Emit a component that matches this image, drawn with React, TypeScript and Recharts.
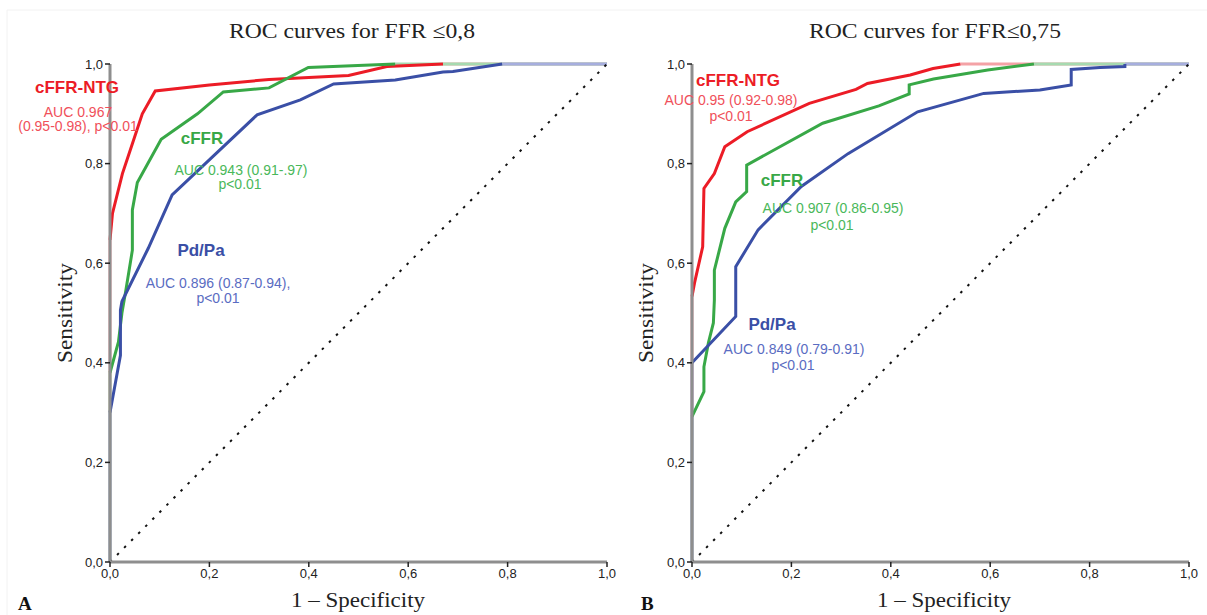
import { LineChart, Line, XAxis, YAxis } from 'recharts'

// ROC points as [1 - specificity, sensitivity]
const ntgA: number[][] = [[0, 0.647], [0.005, 0.7], [0.025, 0.78], [0.045, 0.84], [0.065, 0.9], [0.091, 0.946], [0.2, 0.958], [0.32, 0.969], [0.48, 0.977], [0.557, 0.995], [0.67, 1]]
const cffrA: number[][] = [[0, 0.38], [0.017, 0.442], [0.024, 0.5], [0.032, 0.546], [0.045, 0.626], [0.045, 0.707], [0.055, 0.762], [0.103, 0.849], [0.176, 0.9], [0.228, 0.944], [0.32, 0.952], [0.399, 0.993], [0.574, 1]]
const pdpaA: number[][] = [[0, 0.3], [0.021, 0.415], [0.021, 0.506], [0.024, 0.523], [0.077, 0.63], [0.125, 0.737], [0.296, 0.898], [0.383, 0.928], [0.45, 0.96], [0.574, 0.968], [0.67, 0.984], [0.69, 0.985], [0.789, 1]]

const ntgB: number[][] = [[0, 0.533], [0.005, 0.56], [0.0215, 0.633], [0.024, 0.75], [0.045, 0.78], [0.066, 0.834], [0.111, 0.864], [0.236, 0.921], [0.33, 0.949], [0.353, 0.961], [0.439, 0.978], [0.485, 0.991], [0.54, 1]]
const cffrB: number[][] = [[0, 0.292], [0.024, 0.342], [0.024, 0.392], [0.033, 0.44], [0.043, 0.48], [0.045, 0.526], [0.045, 0.586], [0.066, 0.67], [0.088, 0.723], [0.11, 0.744], [0.11, 0.797], [0.263, 0.881], [0.376, 0.916], [0.437, 0.94], [0.437, 0.958], [0.486, 0.97], [0.595, 0.988], [0.688, 1]]
const pdpaB: number[][] = [[0, 0.4], [0.088, 0.493], [0.088, 0.593], [0.133, 0.667], [0.22, 0.754], [0.314, 0.82], [0.454, 0.904], [0.587, 0.941], [0.7, 0.948], [0.763, 0.958], [0.763, 0.989], [0.821, 0.993], [0.871, 0.995], [0.871, 1]]

const diagonal: number[][] = [[0, 0], [1, 1]]
const ticks = [0, 0.2, 0.4, 0.6, 0.8, 1]

const RED = '#ec1c26'
const GREEN = '#38a847'
const BLUE = '#3a4fa6'
const PALE = { red: '#f4a2a6', green: '#a6dab0', blue: '#a6aede' }

const toPts = (arr: number[][]) => arr.map(([x, y]) => ({ x, y }))

interface Series { key: string; points: number[][]; color: string; pale: string }

function RocPanel({ series, width, left, right }: { series: Series[]; width: number; left: number; right: number }) {
  const fmt = (v: number) => v.toFixed(1).replace('.', ',')
  const tickStyle = { fontSize: 13, fill: '#222', fontFamily: 'Liberation Sans, Arial, sans-serif' }
  return (
    <LineChart width={width} height={615} margin={{ top: 64, right, bottom: 23, left }}>
      <XAxis
        type="number"
        dataKey="x"
        domain={[0, 1]}
        ticks={ticks}
        tickFormatter={fmt}
        height={30}
        axisLine={{ stroke: '#8e8e8e', strokeWidth: 3 }}
        tickLine={{ stroke: '#222', strokeWidth: 1.5 }}
        tickSize={5}
        tick={tickStyle}
      />
      <YAxis
        type="number"
        dataKey="y"
        domain={[0, 1]}
        ticks={ticks}
        tickFormatter={fmt}
        width={40}
        axisLine={{ stroke: '#8e8e8e', strokeWidth: 3 }}
        tickLine={{ stroke: '#222', strokeWidth: 1.5 }}
        tickSize={5}
        tick={tickStyle}
      />
      {/* pale stretches along x = 0 and y = 1 */}
      {series.map((s) => (
        <Line
          key={s.key + '-head'}
          data={toPts([[0, 0], [0, s.points[0][1]]])}
          dataKey="y"
          stroke={s.pale}
          strokeWidth={3}
          dot={false}
          isAnimationActive={false}
        />
      ))}
      {series.map((s) => (
        <Line
          key={s.key + '-tail'}
          data={toPts([[s.points[s.points.length - 1][0], 1], [1, 1]])}
          dataKey="y"
          stroke={s.pale}
          strokeWidth={3}
          dot={false}
          isAnimationActive={false}
        />
      ))}
      {series.map((s) => (
        <Line
          key={s.key}
          data={toPts(s.points)}
          dataKey="y"
          type="linear"
          stroke={s.color}
          strokeWidth={3}
          dot={false}
          isAnimationActive={false}
        />
      ))}
      <Line
        data={toPts(diagonal)}
        dataKey="y"
        stroke="#111"
        strokeWidth={2}
        strokeDasharray="2.5 7.5"
        dot={false}
        isAnimationActive={false}
      />
    </LineChart>
  )
}

const seriesA: Series[] = [
  { key: 'ntg', points: ntgA, color: RED, pale: PALE.red },
  { key: 'cffr', points: cffrA, color: GREEN, pale: PALE.green },
  { key: 'pdpa', points: pdpaA, color: BLUE, pale: PALE.blue },
]
const seriesB: Series[] = [
  { key: 'ntg', points: ntgB, color: RED, pale: PALE.red },
  { key: 'cffr', points: cffrB, color: GREEN, pale: PALE.green },
  { key: 'pdpa', points: pdpaB, color: BLUE, pale: PALE.blue },
]

const sans = 'Liberation Sans, Arial, sans-serif'
const serif = 'Liberation Serif, Times New Roman, serif'

function Note({ x, y, text, color, bold }: { x: number; y: number; text: string; color: string; bold?: boolean }) {
  return (
    <text x={x} y={y} textAnchor="middle" fill={color} fontFamily={sans} fontSize={bold ? 17 : 14} fontWeight={bold ? 700 : 400}>
      {text}
    </text>
  )
}

export default function App() {
  const redTxt = '#f0505a'
  const greenTxt = '#4ab85a'
  const blueTxt = '#5a6cc2'
  return (
    <div style={{ position: 'absolute', left: 0, top: 0, width: 1207, height: 615, background: '#fff', overflow: 'hidden' }}>
      <div style={{ position: 'absolute', left: 0, top: 0 }}>
        <RocPanel series={seriesA} width={620} left={70} right={13} />
      </div>
      <div style={{ position: 'absolute', left: 580, top: 0 }}>
        <RocPanel series={seriesB} width={627} left={72} right={18} />
      </div>
      <svg width={1207} height={615} style={{ position: 'absolute', left: 0, top: 0, pointerEvents: 'none' }}>
        <line x1={7} y1={10} x2={1207} y2={10} stroke="#f2f2f2" />
        <line x1={7} y1={10} x2={7} y2={615} stroke="#f2f2f2" />

        <text x={352} y={38} textAnchor="middle" fontFamily={serif} fontSize={21} fill="#222" textLength={246} lengthAdjust="spacingAndGlyphs">ROC curves for FFR ≤0,8</text>
        <text x={935} y={38} textAnchor="middle" fontFamily={serif} fontSize={21} fill="#222" textLength={252} lengthAdjust="spacingAndGlyphs">ROC curves for FFR≤0,75</text>

        <text x={72} y={313} transform="rotate(-90 72 313)" textAnchor="middle" fontFamily={serif} fontSize={20} fill="#222" textLength={100} lengthAdjust="spacingAndGlyphs">Sensitivity</text>
        <text x={653} y={313} transform="rotate(-90 653 313)" textAnchor="middle" fontFamily={serif} fontSize={20} fill="#222" textLength={100} lengthAdjust="spacingAndGlyphs">Sensitivity</text>

        <text x={358} y={607} textAnchor="middle" fontFamily={serif} fontSize={20} fill="#222" textLength={134} lengthAdjust="spacingAndGlyphs">1 – Specificity</text>
        <text x={944} y={607} textAnchor="middle" fontFamily={serif} fontSize={20} fill="#222" textLength={134} lengthAdjust="spacingAndGlyphs">1 – Specificity</text>

        <text x={18} y={610} fontFamily={serif} fontSize={19} fontWeight={700} fill="#111">A</text>
        <text x={641} y={610} fontFamily={serif} fontSize={19} fontWeight={700} fill="#111">B</text>

        <Note x={77} y={93} text="cFFR-NTG" color={RED} bold />
        <Note x={78} y={117} text="AUC 0.967" color={redTxt} />
        <Note x={78} y={131} text="(0.95-0.98), p<0.01" color={redTxt} />
        <Note x={202} y={144} text="cFFR" color={GREEN} bold />
        <Note x={241} y={175} text="AUC 0.943 (0.91-.97)" color={greenTxt} />
        <Note x={240} y={189} text="p<0.01" color={greenTxt} />
        <Note x={201} y={256} text="Pd/Pa" color={BLUE} bold />
        <Note x={218} y={288} text="AUC 0.896 (0.87-0.94)," color={blueTxt} />
        <Note x={218} y={303} text="p<0.01" color={blueTxt} />

        <Note x={738} y={86} text="cFFR-NTG" color={RED} bold />
        <Note x={731} y={105} text="AUC 0.95 (0.92-0.98)" color={redTxt} />
        <Note x={731} y={121} text="p<0.01" color={redTxt} />
        <Note x={782} y={186} text="cFFR" color={GREEN} bold />
        <Note x={833} y={213} text="AUC 0.907 (0.86-0.95)" color={greenTxt} />
        <Note x={832} y={230} text="p<0.01" color={greenTxt} />
        <Note x={772} y={330} text="Pd/Pa" color={BLUE} bold />
        <Note x={794} y={354} text="AUC 0.849 (0.79-0.91)" color={blueTxt} />
        <Note x={793} y={370} text="p<0.01" color={blueTxt} />
      </svg>
    </div>
  )
}
